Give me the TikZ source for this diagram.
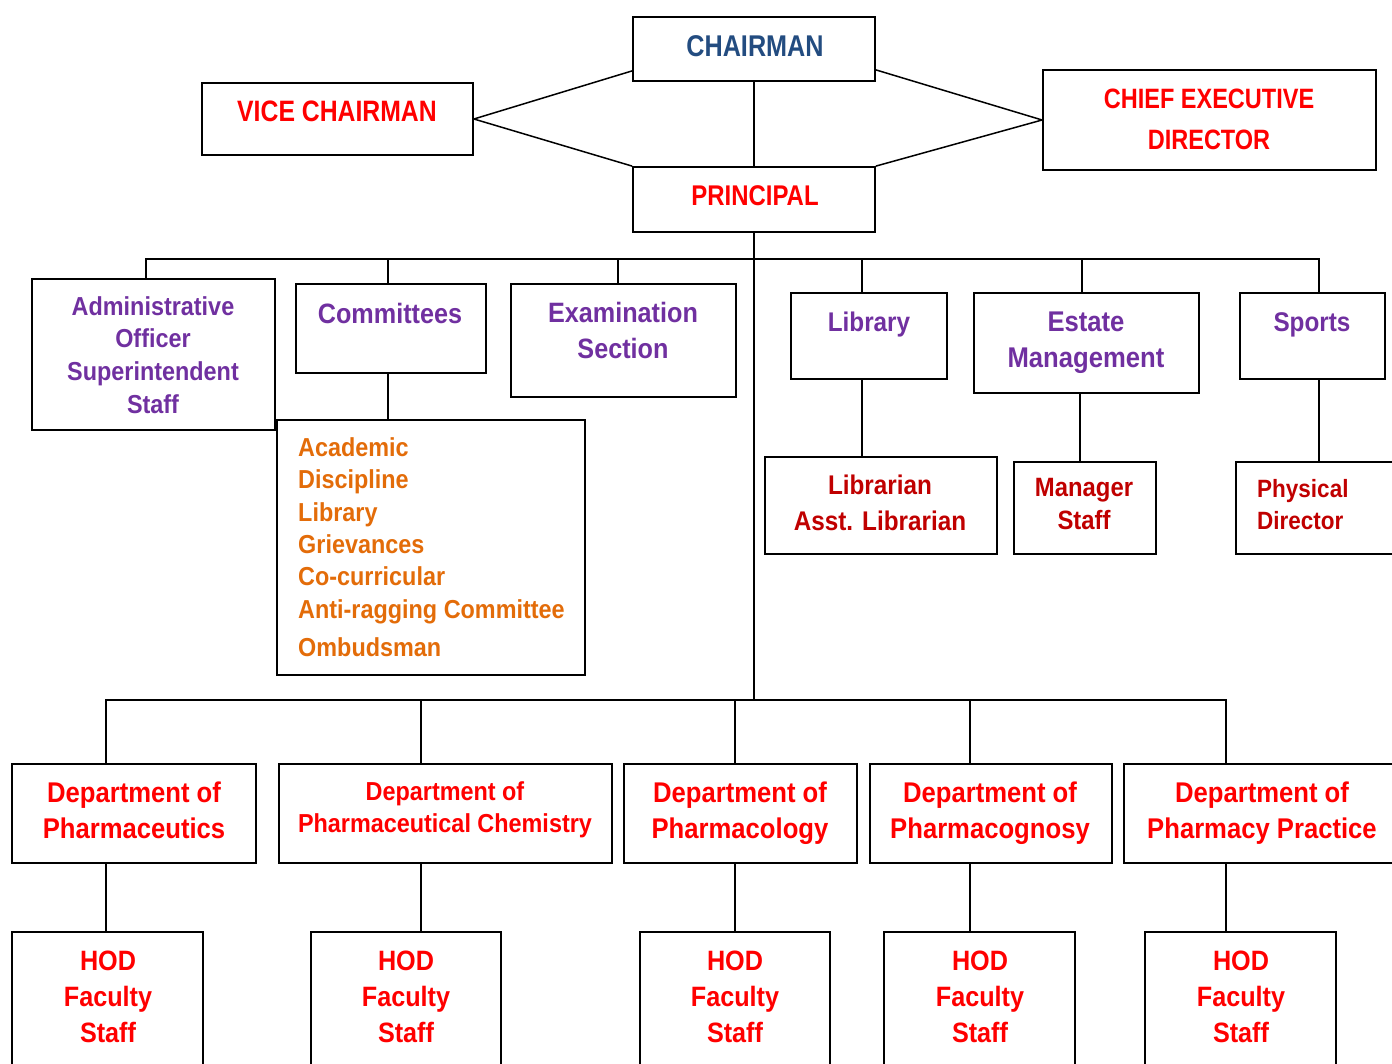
\documentclass[tikz,border=0pt]{standalone}
\usepackage{fontspec}
\usetikzlibrary{fit}
\newfontfamily\capf{Liberation Sans}[FakeStretch=0.84]
\newfontfamily\txtf{Liberation Sans}[FakeStretch=0.9]
\definecolor{navy}{HTML}{234C80}
\definecolor{cred}{HTML}{FF0000}
\definecolor{cpurple}{HTML}{7030A0}
\definecolor{corange}{HTML}{E36C09}
\definecolor{cdred}{HTML}{C00000}
\newcommand{\fz}[2]{\fontsize{#1}{#2}\selectfont}
\tikzset{
  box/.style={draw=black, line width=1.8pt, inner sep=0pt},
  conn/.style={draw=black, line width=1.5pt},
  lbl/.style={inner sep=0pt, align=center},
}
\begin{document}
\begin{tikzpicture}[x=1pt,y=-1pt]
\useasboundingbox (0,0) rectangle (1392,1064);
% ---------- boxes ----------
\node[box,fit={(633,17)(875,81)}] (chair) {};
\node[box,fit={(202,83)(473,155)}] (vc) {};
\node[box,fit={(1043,70)(1376,170)}] (ced) {};
\node[box,fit={(633,167)(875,232)}] (prin) {};
\node[box,fit={(32,279)(275,430)}] (adm) {};
\node[box,fit={(296,284)(486,373)}] (com) {};
\node[box,fit={(511,284)(736,397)}] (exa) {};
\node[box,fit={(791,293)(947,379)}] (lib) {};
\node[box,fit={(974,293)(1199,393)}] (est) {};
\node[box,fit={(1240,293)(1385,379)}] (spo) {};
\node[box,fit={(277,420)(585,675)}] (lst) {};
\node[box,fit={(765,457)(997,554)}] (lbr) {};
\node[box,fit={(1014,462)(1156,554)}] (mgr) {};
\node[box,fit={(1236,462)(1402,554)}] (phy) {};
\node[box,fit={(12,764)(256,863)}] (d1) {};
\node[box,fit={(279,764)(612,863)}] (d2) {};
\node[box,fit={(624,764)(857,863)}] (d3) {};
\node[box,fit={(870,764)(1112,863)}] (d4) {};
\node[box,fit={(1124,764)(1402,863)}] (d5) {};
\node[box,fit={(12,932)(203,1075)}] (h1) {};
\node[box,fit={(311,932)(501,1075)}] (h2) {};
\node[box,fit={(640,932)(830,1075)}] (h3) {};
\node[box,fit={(884,932)(1075,1075)}] (h4) {};
\node[box,fit={(1145,932)(1336,1075)}] (h5) {};
% ---------- labels ----------
\node[lbl,text=navy,font=\capf\bfseries\fz{30}{36}] (chairT) at (755,46) {CHAIRMAN};
\node[lbl,text=cred,font=\capf\bfseries\fz{29.5}{36}] (vcT) at (337,111) {VICE CHAIRMAN};
\node[lbl,text=cred,font=\capf\bfseries\fz{28}{41}] (cedT) at (1209,119.5) {CHIEF EXECUTIVE\\DIRECTOR};
\node[lbl,text=cred,font=\capf\bfseries\fz{28.5}{36}] (prinT) at (755,196) {PRINCIPAL};
\node[lbl,text=cpurple,font=\txtf\bfseries\fz{26}{32.7}] (admT) at (153,355) {Administrative\\Officer\\Superintendent\\Staff};
\node[lbl,text=cpurple,font=\txtf\bfseries\fz{28}{36}] (comT) at (390,313) {Committees};
\node[lbl,text=cpurple,font=\txtf\bfseries\fz{28}{36}] (exaT) at (623,330) {Examination\\Section};
\node[lbl,text=cpurple,font=\txtf\bfseries\fz{27}{36}] (libT) at (869,325) {Library};
\node[lbl,text=cpurple,font=\txtf\bfseries\fz{28.5}{36}] (estT) at (1086,342.5) {Estate\\Management};
\node[lbl,text=cpurple,font=\txtf\bfseries\fz{27}{36}] (spoT) at (1312,325) {Sports};
\node[lbl,align=left,anchor=west,text=corange,font=\txtf\bfseries\fz{26}{32.4}] (lstT) at (298,547) {Academic\\Discipline\\Library\\Grievances\\Co-curricular\\Anti-ragging Committee\\[5.6pt]Ombudsman};
\node[lbl,text=cdred,font=\txtf\bfseries\fz{27}{36}] (lbrT) at (880,503) {Librarian\\Asst. Librarian};
\node[lbl,text=cdred,font=\txtf\bfseries\fz{26.5}{33}] (mgrT) at (1084,504.5) {Manager\\Staff};
\node[lbl,align=left,anchor=west,text=cdred,font=\txtf\bfseries\fz{25}{32}] (phyT) at (1257,505) {Physical\\Director};
\node[lbl,text=cred,font=\txtf\bfseries\fz{28.5}{36}] (d1T) at (134,810) {Department of\\Pharmaceutics};
\node[lbl,text=cred,font=\txtf\bfseries\fz{26}{32}] (d2T) at (445,810) {Department of\\Pharmaceutical Chemistry};
\node[lbl,text=cred,font=\txtf\bfseries\fz{28.5}{36}] (d3T) at (740,813) {Department of\\Pharmacology};
\node[lbl,text=cred,font=\txtf\bfseries\fz{28.5}{36}] (d4T) at (990,813) {Department of\\Pharmacognosy};
\node[lbl,text=cred,font=\txtf\bfseries\fz{28.5}{36}] (d5T) at (1262,813) {Department of\\Pharmacy Practice};
\node[lbl,text=cred,font=\txtf\bfseries\fz{28}{36}] (h1T) at (108,997) {HOD\\Faculty\\Staff};
\node[lbl,text=cred,font=\txtf\bfseries\fz{28}{36}] (h2T) at (406,997) {HOD\\Faculty\\Staff};
\node[lbl,text=cred,font=\txtf\bfseries\fz{28}{36}] (h3T) at (735,997) {HOD\\Faculty\\Staff};
\node[lbl,text=cred,font=\txtf\bfseries\fz{28}{36}] (h4T) at (980,997) {HOD\\Faculty\\Staff};
\node[lbl,text=cred,font=\txtf\bfseries\fz{28}{36}] (h5T) at (1241,997) {HOD\\Faculty\\Staff};
% ---------- connectors ----------
\coordinate (busA) at (754,259);
\coordinate (busB) at (754,700);
\draw[conn] (chair.south) -- (prin.north);
\draw[conn] (vc.east) -- ([yshift=11pt]chair.south west);
\draw[conn] (vc.east) -- (prin.north west);
\draw[conn] (ced.west) -- ([yshift=12pt]chair.south east);
\draw[conn] (ced.west) -- (prin.north east);
\draw[conn] (prin.south) -- (busB);
\draw[conn] ([xshift=-7.5pt]adm.north) |- (busA);
\draw[conn] ([xshift=-3pt]com.north) |- (busA);
\draw[conn] ([xshift=-5.5pt]exa.north) |- (busA);
\draw[conn] ([xshift=-7pt]lib.north) |- (busA);
\draw[conn] ([xshift=-4.5pt]est.north) |- (busA);
\draw[conn] ([xshift=6.5pt]spo.north) |- (busA);
\draw[conn] ([xshift=-3pt]com.south) -- ([xshift=-3pt]com.south |- lst.north);
\draw[conn] ([xshift=-7pt]lib.south) -- ([xshift=-7pt]lib.south |- lbr.north);
\draw[conn] ([xshift=-6.5pt]est.south) -- ([xshift=-6.5pt]est.south |- mgr.north);
\draw[conn] ([xshift=6.5pt]spo.south) -- ([xshift=6.5pt]spo.south |- phy.north);
\draw[conn] ([xshift=-28pt]d1.north) |- (busB);
\draw[conn] ([xshift=-24.5pt]d2.north) |- (busB);
\draw[conn] ([xshift=-5.5pt]d3.north) |- (busB);
\draw[conn] ([xshift=-21pt]d4.north) |- (busB);
\draw[conn] ([xshift=-37pt]d5.north) |- (busB);
\draw[conn] ([xshift=-28pt]d1.south) -- ([xshift=-28pt]d1.south |- h1.north);
\draw[conn] ([xshift=-24.5pt]d2.south) -- ([xshift=-24.5pt]d2.south |- h2.north);
\draw[conn] ([xshift=-5.5pt]d3.south) -- ([xshift=-5.5pt]d3.south |- h3.north);
\draw[conn] ([xshift=-21pt]d4.south) -- ([xshift=-21pt]d4.south |- h4.north);
\draw[conn] ([xshift=-37pt]d5.south) -- ([xshift=-37pt]d5.south |- h5.north);
\end{tikzpicture}
\end{document}
